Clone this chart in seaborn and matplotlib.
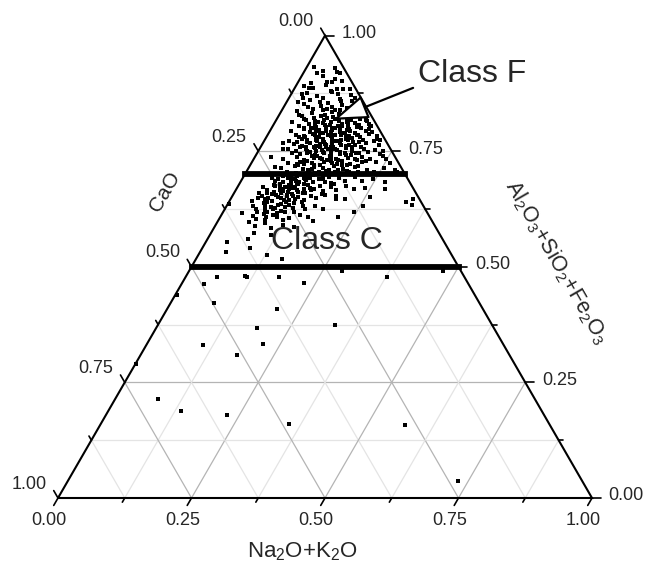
import numpy as np
import pandas as pd
import matplotlib
matplotlib.use("Agg")
import matplotlib.pyplot as plt
import seaborn as sns

sns.set_style("white")
plt.rcParams["font.family"] = ["Liberation Sans", "DejaVu Sans"]
plt.rcParams["mathtext.fontset"] = "custom"
plt.rcParams["mathtext.rm"] = "Liberation Sans"
plt.rcParams["mathtext.it"] = "Liberation Sans:italic"
plt.rcParams["mathtext.bf"] = "Liberation Sans:bold"

# Fly ash bulk compositions (wt%, normalised to the three oxide groups).
# CaO makes up the remainder of each sample.
na2o_k2o = [
    3.4, 6.1, 2.6, 5.4, 6.9, 1.2, 6.5, 8.1, 6.3, 4.0,
    5.4, 2.5, 2.6, 3.4, 8.0, 9.1, 10.4, 5.5, 7.0, 1.5,
    2.0, 2.9, 8.7, 2.7, 5.0, 6.3, 9.8, 11.3, 4.1, 7.5,
    12.5, 6.2, 5.7, 3.5, 7.8, 9.0, 10.6, 11.9, 13.4, 4.6,
    8.3, 12.2, 13.2, 2.1, 10.0, 6.9, 2.9, 4.4, 5.9, 6.8,
    7.7, 8.6, 9.5, 10.3, 11.1, 12.0, 12.9, 13.8, 14.6, 15.9,
    14.9, 5.1, 8.0, 10.9, 13.1, 16.6, 3.6, 9.9, 3.3, 4.8,
    5.6, 6.5, 7.3, 8.1, 8.9, 9.6, 10.4, 11.2, 11.9, 12.7,
    13.5, 14.2, 15.1, 16.0, 17.2, 18.5, 17.8, 6.0, 9.2, 12.3,
    15.6, 7.8, 10.9, 13.9, 16.9, 4.0, 5.2, 6.1, 6.9, 7.6,
    8.4, 9.1, 9.8, 10.5, 11.2, 11.9, 12.6, 13.3, 14.0, 14.7,
    15.4, 16.2, 17.0, 17.9, 18.8, 19.2, 20.5, 8.0, 10.2, 12.3,
    14.4, 16.6, 9.5, 11.6, 13.7, 7.2, 18.3, 4.7, 5.9, 6.8,
    7.5, 8.2, 8.9, 9.6, 10.3, 11.0, 11.7, 12.4, 13.1, 13.8,
    14.5, 15.2, 15.9, 16.7, 17.5, 18.4, 19.4, 20.6, 22.0, 21.6,
    9.3, 11.4, 13.5, 15.6, 17.9, 10.0, 12.0, 14.2, 16.3, 6.3,
    5.3, 6.5, 7.4, 8.2, 9.0, 9.7, 10.4, 11.1, 11.8, 12.5,
    13.2, 13.9, 14.6, 15.3, 16.0, 16.8, 17.6, 18.5, 19.5, 20.6,
    21.8, 23.1, 23.4, 10.0, 12.1, 14.2, 16.4, 18.8, 8.6, 11.5,
    13.6, 17.2, 5.6, 6.9, 7.9, 8.7, 9.5, 10.3, 11.1, 11.9,
    12.7, 13.5, 14.3, 15.1, 15.9, 16.7, 17.6, 18.5, 19.5, 20.6,
    21.8, 23.2, 24.8, 26.0, 10.7, 13.0, 15.5, 18.1, 9.1, 12.3,
    14.7, 20.0, 6.2, 7.5, 8.6, 9.5, 10.4, 11.3, 12.2, 13.1,
    14.0, 14.9, 15.8, 16.7, 17.7, 18.7, 19.8, 21.0, 22.3, 23.8,
    25.4, 27.6, 11.8, 14.5, 17.2, 20.4, 9.0, 3.7, 4.3, 3.0,
    4.8, 20.9, 23.9, 28.2, 18.2, 5.4, 6.4, 7.2, 7.9, 8.6,
    9.3, 10.0, 10.7, 11.4, 12.1, 12.8, 13.5, 14.3, 15.1, 16.0,
    17.0, 18.1, 19.4, 20.9, 22.6, 24.5, 27.0, 8.2, 10.4, 12.5,
    9.7, 11.8, 14.8, 4.7, 5.8, 6.6, 7.3, 8.0, 8.7, 9.4,
    10.1, 10.8, 11.5, 12.2, 12.9, 13.7, 14.5, 15.4, 16.4, 17.5,
    18.8, 20.2, 22.0, 24.0, 27.8, 7.0, 9.0, 11.1, 13.3, 8.3,
    10.5, 12.6, 4.2, 4.7, 5.6, 6.4, 7.2, 7.9, 8.6, 9.3,
    10.0, 10.7, 11.4, 12.1, 12.9, 13.8, 14.8, 15.9, 17.2, 19.3,
    19.8, 21.4, 25.9, 34.2, 8.9, 11.0, 6.9, 10.3, 0.3, 4.9,
    5.9, 6.8, 7.6, 8.4, 9.2, 10.0, 10.8, 11.7, 12.7, 13.8,
    15.0, 16.5, 18.3, 25.6, 33.3, 34.6, 9.6, 7.3, 3.7, 6.0,
    6.9, 7.8, 8.7, 9.6, 10.6, 11.7, 13.0, 14.6, 16.5, 22.0,
    24.4, 8.2, 12.1, 5.9, 7.4, 9.1, 10.8, 12.6, 14.9, 8.0,
    11.5, 17.8, 4.0, 5.0, 9.0, 16.1, 7.6, 12.8,
    7.4, 8.7, 10.0, 11.5, 12.9, 14.3, 15.8, 9.3, 11.8, 14.0,
    7.9, 9.0, 10.7, 12.0, 13.3, 14.8, 16.1, 8.5, 10.8, 12.9,
    14.9, 17.1, 9.4, 10.9, 12.8, 14.0, 15.7, 17.9, 19.1, 11.4,
    13.8, 16.2, 18.9, 21.2, 10.0, 12.0, 15.2, 17.0, 19.2, 13.6,
    7.0, 6.2, 8.0, 10.6, 13.1, 15.0, 17.5, 16.8, 12.2, 11.1,
    6.8, 8.9, 11.0, 13.0, 7.6, 9.8, 11.9, 14.1, 6.2, 8.1,
    10.2, 12.4, 7.0, 9.0, 11.1, 13.2, 6.4, 8.5, 10.2, 7.2,
    9.9, 12.0, 15.8, 17.8, 16.6, 14.2, 5.1, 8.8, 10.9, 12.3,
    5.8, 11.1, 11.5, 17.5, 22.8, 4.2, 8.1, 20.6, 18.9, 10.7,
    21.7, 18.0, 8.0, 13.5, 22.6, 35.3, 28.6, 37.7, 47.6, 33.2,
    57.1, 73.1, 0.2, 0.2,
]
al_si_fe = [
    92.4, 92.2, 91.8, 92.9, 91.8, 93.3, 90.7, 90.2, 90.0, 91.2,
    90.0, 89.8, 88.7, 88.7, 88.5, 88.5, 88.5, 89.3, 88.1, 89.0,
    87.4, 87.6, 87.3, 86.4, 87.0, 86.6, 86.2, 87.2, 86.1, 87.8,
    86.4, 85.7, 84.2, 85.1, 85.4, 84.6, 85.0, 84.3, 85.5, 84.5,
    84.1, 85.8, 84.7, 85.6, 85.9, 84.8, 83.7, 82.6, 83.3, 82.2,
    83.8, 82.9, 83.5, 82.4, 83.1, 82.7, 83.9, 82.3, 83.4, 82.8,
    83.6, 82.0, 82.5, 83.9, 82.0, 82.1, 82.9, 84.0, 81.2, 80.5,
    81.7, 80.9, 81.5, 80.3, 81.8, 80.7, 81.3, 80.1, 81.6, 80.8,
    81.4, 80.2, 81.1, 80.6, 81.5, 80.4, 80.9, 80.1, 81.0, 80.4,
    81.9, 80.6, 81.9, 80.9, 81.7, 79.4, 78.6, 79.8, 78.3, 79.1,
    78.8, 79.6, 78.1, 79.3, 78.6, 79.9, 78.4, 79.2, 78.9, 79.7,
    78.2, 79.0, 78.5, 79.4, 78.7, 79.1, 78.3, 79.9, 78.9, 78.0,
    79.5, 78.6, 79.0, 79.6, 78.5, 78.1, 79.8, 77.2, 76.5, 77.7,
    76.2, 77.0, 76.7, 77.5, 76.1, 77.3, 76.6, 77.8, 76.3, 77.1,
    76.8, 77.6, 76.1, 77.0, 76.4, 77.4, 76.7, 77.2, 76.4, 77.5,
    77.9, 76.9, 76.0, 77.4, 76.9, 77.1, 76.4, 77.5, 76.3, 76.9,
    75.4, 74.6, 75.8, 74.3, 75.1, 74.8, 75.6, 74.1, 75.3, 74.7,
    75.9, 74.4, 75.2, 74.9, 75.7, 74.2, 75.0, 74.5, 75.5, 74.8,
    75.3, 74.4, 75.0, 75.9, 74.9, 75.5, 74.6, 75.8, 75.5, 74.0,
    75.1, 75.6, 73.2, 72.5, 73.7, 72.2, 73.0, 72.8, 73.6, 72.1,
    73.3, 72.6, 73.8, 72.4, 73.1, 72.9, 73.5, 72.3, 73.0, 72.7,
    73.4, 72.6, 73.2, 72.4, 73.9, 72.0, 73.3, 72.0, 72.6, 73.5,
    72.9, 73.7, 71.3, 70.6, 71.7, 70.3, 71.1, 70.9, 71.6, 70.2,
    71.4, 70.7, 71.8, 70.5, 71.2, 70.8, 71.5, 70.4, 71.0, 70.6,
    71.4, 70.9, 70.4, 70.1, 71.9, 71.7, 71.9, 76.7, 75.5, 73.7,
    71.6, 77.7, 74.0, 70.5, 80.5, 69.2, 68.6, 69.7, 68.3, 69.1,
    68.8, 69.6, 68.1, 69.3, 68.7, 69.8, 68.4, 69.0, 68.9, 69.5,
    68.2, 69.1, 68.6, 69.4, 68.5, 69.0, 68.3, 69.9, 68.5, 69.2,
    68.0, 68.9, 69.7, 67.3, 66.5, 67.7, 66.2, 67.0, 66.8, 67.6,
    66.1, 67.3, 66.7, 67.9, 66.4, 67.1, 66.9, 67.5, 66.3, 67.2,
    66.6, 67.4, 66.8, 67.1, 66.8, 67.4, 66.4, 67.8, 66.0, 66.6,
    67.1, 66.9, 64.2, 65.9, 65.3, 64.6, 65.7, 64.3, 65.1, 64.8,
    65.6, 64.1, 65.3, 64.7, 65.9, 64.4, 65.2, 64.9, 65.5, 65.4,
    64.6, 64.6, 65.0, 64.6, 65.9, 64.5, 64.9, 65.2, 63.6, 63.2,
    62.5, 63.7, 62.2, 63.0, 62.8, 63.6, 62.1, 63.3, 62.7, 63.9,
    62.4, 63.1, 62.6, 63.2, 63.9, 63.4, 63.3, 62.9, 61.6, 61.0,
    60.4, 61.5, 60.2, 61.2, 60.7, 61.8, 60.5, 61.3, 60.8, 60.7,
    61.9, 61.9, 60.1, 59.7, 58.9, 59.4, 58.3, 59.1, 58.6, 57.4,
    56.8, 59.8, 55.3, 53.1, 54.0, 51.6, 55.9, 52.5,
    80.0, 79.4, 80.3, 79.2, 80.5, 79.0, 80.2, 82.1, 82.4, 81.8,
    77.4, 78.4, 77.7, 78.2, 77.3, 78.1, 77.8, 76.0, 76.5, 76.9,
    76.3, 76.0, 74.5, 75.0, 75.4, 74.0, 74.4, 74.1, 74.7, 72.5,
    73.1, 72.2, 73.4, 72.9, 72.3, 71.2, 71.0, 70.9, 70.6, 70.6,
    75.0, 78.0, 81.2, 80.6, 79.6, 79.3, 78.0, 80.0, 75.9, 76.0,
    68.9, 69.4, 68.3, 67.6, 67.9, 66.8, 66.2, 66.5, 66.0, 65.5,
    64.4, 65.1, 63.5, 62.4, 62.9, 61.9, 61.8, 60.8, 61.6, 64.0,
    69.0, 69.5, 68.4, 67.8, 65.8, 63.2, 64.8, 67.3, 65.8, 63.8,
    47.8, 47.9, 47.7, 47.8, 46.4, 46.2, 42.2, 40.9, 36.8, 33.0,
    33.2, 31.0, 21.3, 18.9, 18.0, 16.1, 49.1, 47.7, 49.1, 37.4,
    15.7, 3.7, 44.0, 28.9,
]

tick_values = [0.0, 0.25, 0.50, 0.75, 1.0]
tick_labels = ["0.00", "0.25", "0.50", "0.75", "1.00"]
# lower limits of Al2O3+SiO2+Fe2O3 for Class F and Class C ash
class_limits = [0.70, 0.50]

H = np.sqrt(3) / 2


def to_xy(nak, asf):
    """Ternary (Na2O+K2O, Al2O3+SiO2+Fe2O3) fractions -> plane coordinates."""
    nak = np.asarray(nak, dtype=float)
    asf = np.asarray(asf, dtype=float)
    return nak + asf / 2, asf * H


df = pd.DataFrame({"nak": np.array(na2o_k2o) / 100, "asf": np.array(al_si_fe) / 100})
df["cao"] = 1 - df["nak"] - df["asf"]
df["x"], df["y"] = to_xy(df["nak"], df["asf"])

fig = plt.figure(figsize=(6.48, 5.71), dpi=100)
ax = fig.add_axes([0, 0, 1, 1])
ax.set_xlim(-58 / 534, 590 / 534)
ax.set_ylim(-73 / 534, 498 / 534)
ax.axis("off")

# grid: major every 0.25, fine lines every 0.125
for k in range(1, 8):
    v = k / 8
    major = k % 2 == 0
    kw = dict(color="#b4b4b4" if major else "#e4e4e4", lw=0.9, zorder=1)
    ax.plot(*to_xy([0, 1 - v], [v, v]), **kw)                # constant Al2O3+SiO2+Fe2O3
    ax.plot(*to_xy([v, v], [0, 1 - v]), **kw)                # constant Na2O+K2O
    ax.plot(*to_xy([1 - v, 0], [0, 1 - v]), **kw)            # constant CaO

# triangle frame
fx, fy = to_xy([0, 1, 0, 0], [0, 0, 1, 0])
ax.plot(fx, fy, color="black", lw=1.5, zorder=4, solid_joinstyle="miter")

# ticks and tick labels on the three axes
tick_fs = 13
for k in range(9):
    v = k / 8
    major = k % 2 == 0
    L = 0.016 if major else 0.009
    # bottom axis: Na2O+K2O
    bx, by = to_xy(v, 0)
    ax.plot([bx, bx - 0.5 * L], [by, by - H * L], color="black", lw=1.2, zorder=4)
    # left axis: CaO (0 at the apex)
    lx, ly = to_xy(0, 1 - v)
    ax.plot([lx, lx - 0.5 * L], [ly, ly + H * L], color="black", lw=1.2, zorder=4)
    # right axis: Al2O3+SiO2+Fe2O3
    rx, ry = to_xy(1 - v, v)
    ax.plot([rx, rx + L], [ry, ry], color="black", lw=1.2, zorder=4)

for v, lab in zip(tick_values, tick_labels):
    bx, by = to_xy(v, 0)
    ax.annotate(lab, (bx, by), xytext=(-6.5, -16), textcoords="offset points",
                ha="center", va="center", fontsize=tick_fs)
    lx, ly = to_xy(0, 1 - v)
    ax.annotate(lab, (lx, ly), xytext=(-21, 10), textcoords="offset points",
                ha="center", va="center", fontsize=tick_fs)
    rx, ry = to_xy(1 - v, v)
    ax.annotate(lab, (rx, ry), xytext=(12, 1.5), textcoords="offset points",
                ha="left", va="center", fontsize=tick_fs)

# class boundaries
for lim in class_limits:
    ax.plot(*to_xy([0, 1 - lim], [lim, lim]), color="black", lw=4.2,
            solid_capstyle="projecting", zorder=5)

# samples
sns.scatterplot(data=df, x="x", y="y", ax=ax, marker="s", s=9, color="black",
                linewidth=0, legend=False, zorder=3)

# axis titles
ax.text(0.457, -0.101, "Na$_2$O+K$_2$O", ha="center", va="center", fontsize=16)
ax.text(0.200, 0.573, "CaO", ha="center", va="center", fontsize=15, rotation=60)
ax.text(0.934, 0.442, "Al$_2$O$_3$+SiO$_2$+Fe$_2$O$_3$", ha="center", va="center",
        fontsize=15.5, rotation=-60)

# class labels
ax.text(0.503, 0.481, "Class C", ha="center", va="center", fontsize=23, zorder=6)
ax.text(0.674, 0.794, "Class F", ha="left", va="center", fontsize=23, zorder=6)
ax.annotate("", xy=(0.515, 0.708), xytext=(0.665, 0.768),
            arrowprops=dict(arrowstyle="-|>,head_length=1.1,head_width=0.38",
                            mutation_scale=20, fc="white", ec="black", lw=1.6,
                            shrinkA=0, shrinkB=0), zorder=6)

fig.savefig("out.png", dpi=100)
